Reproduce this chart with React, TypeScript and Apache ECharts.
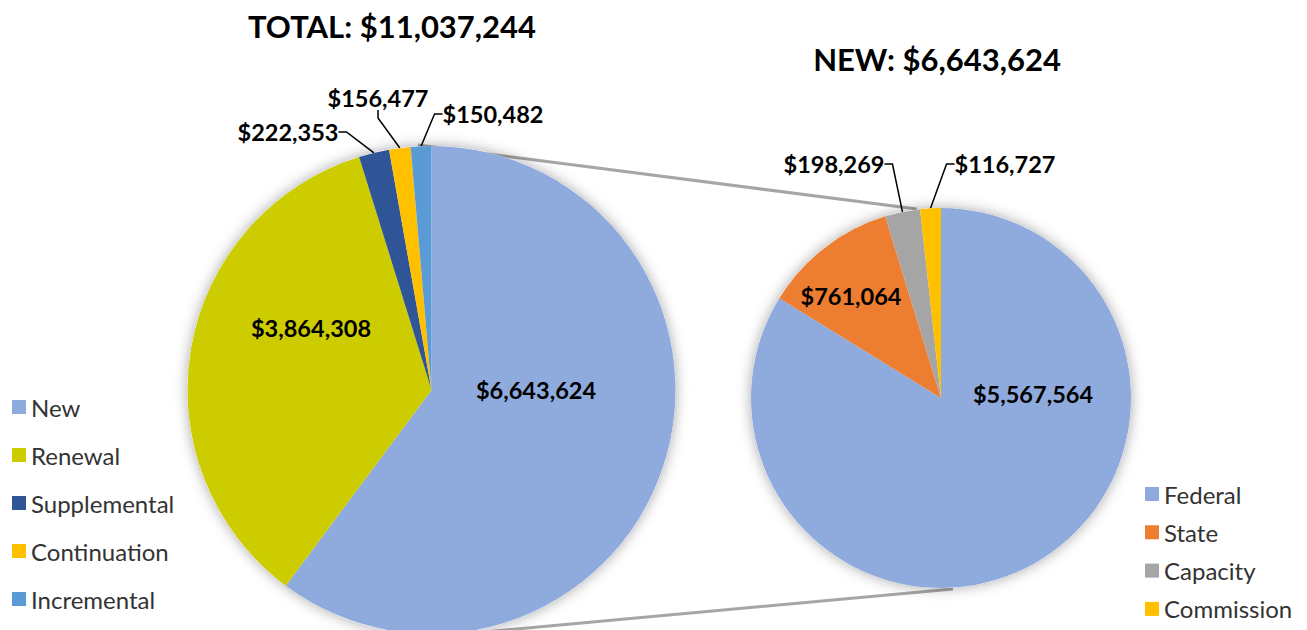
import React, { useEffect, useRef } from 'react';
import * as echarts from 'echarts';

const TOTAL_CATEGORIES = ['New', 'Renewal', 'Supplemental', 'Continuation', 'Incremental'];
const TOTAL_VALUES = [6643624, 3864308, 222353, 156477, 150482];
const NEW_CATEGORIES = ['Federal', 'State', 'Capacity', 'Commission'];
const NEW_VALUES = [5567564, 761064, 198269, 116727];
const TOTAL_TITLE = 'TOTAL: $11,037,244';
const NEW_TITLE = 'NEW: $6,643,624';

const TOTAL_COLORS = ['#8FAADC', '#CCCC00', '#2F5597', '#FFC000', '#5B9BD5'];
const NEW_COLORS = ['#8FAADC', '#ED7D31', '#A5A5A5', '#FFC000'];

// label layout (centre points of the value labels)
const TOTAL_LABEL_POS = [[536, 390], [311, 328], [288, 132], [378, 98], [493, 114]];
const NEW_LABEL_POS = [[1033, 394], [851, 296], [834, 164], [1005, 164]];
const TOTAL_INSIDE = [true, true, false, false, false];
const NEW_INSIDE = [true, true, false, false];

const FONT = 'Lato, "Open Sans", "Noto Sans", sans-serif';
const fmt = (v: number) => '$' + v.toLocaleString('en-US');

const LEFT_CENTER = [431.5, 390];
const LEFT_RADIUS = 244;
const RIGHT_CENTER = [941, 398];
const RIGHT_RADIUS = 190;

function buildData(names: string[], values: number[], colors: string[], inside: boolean[]) {
  return names.map((n, i) => ({
    name: n,
    value: values[i],
    itemStyle: { color: colors[i] },
    label: inside[i] ? { position: 'inside' } : { position: 'outside' },
    labelLine: { show: !inside[i] },
  }));
}

function pieSeries(name: string, center: number[], radius: number, data: any[], pos: number[][]) {
  return {
    name,
    type: 'pie',
    center,
    radius,
    startAngle: 90,
    clockwise: true,
    avoidLabelOverlap: false,
    z: 3,
    data,
    itemStyle: { borderWidth: 0 },
    label: {
      show: true,
      formatter: (p: any) => fmt(p.value),
      fontFamily: FONT,
      fontWeight: 'bold',
      fontSize: 23.5,
      color: '#000',
    },
    labelLine: {
      show: true,
      length: 8,
      length2: 8,
      smooth: false,
      lineStyle: { color: '#000', width: 1.5 },
    },
    labelLayout: (p: any) => {
      const q = pos[p.dataIndex];
      return { x: q[0], y: q[1], align: 'center', verticalAlign: 'middle' };
    },
    emphasis: { disabled: true },
  };
}

function shadowSeries(center: number[], radius: number) {
  return {
    type: 'pie',
    name: '__shadow',
    center,
    radius,
    silent: true,
    z: 1,
    label: { show: false },
    labelLine: { show: false },
    data: [{ value: 1, name: '__shadow' }],
    itemStyle: { color: '#ffffff', shadowBlur: 14, shadowColor: 'rgba(0,0,0,0.35)' },
    emphasis: { disabled: true },
  };
}

export default function App() {
  const ref = useRef<HTMLDivElement>(null);
  useEffect(() => {
    if (!ref.current) return;
    const chart = echarts.init(ref.current, undefined, { renderer: 'svg' });
    const legendText = { fontFamily: FONT, fontSize: 24, color: '#333333', lineHeight: 24 };
    chart.setOption({
      animation: false,
      backgroundColor: '#ffffff',
      legend: [
        {
          data: TOTAL_CATEGORIES,
          orient: 'vertical',
          left: 7,
          top: 390,
          padding: 5,
          itemWidth: 14,
          itemHeight: 14,
          itemGap: 24,
          icon: 'rect',
          selectedMode: false,
          textStyle: legendText,
        },
        {
          data: NEW_CATEGORIES,
          orient: 'vertical',
          left: 1140,
          top: 477,
          padding: 5,
          itemWidth: 14,
          itemHeight: 14,
          itemGap: 14.3,
          icon: 'rect',
          selectedMode: false,
          textStyle: legendText,
        },
      ],
      graphic: [
        {
          type: 'line',
          z: 0,
          shape: { x1: 418, y1: 145, x2: 917, y2: 209 },
          style: { stroke: '#A6A6A6', lineWidth: 3 },
        },
        {
          type: 'line',
          z: 0,
          shape: { x1: 462, y1: 634, x2: 953, y2: 589 },
          style: { stroke: '#A6A6A6', lineWidth: 3 },
        },
        {
          type: 'text',
          x: 392,
          y: 26,
          style: {
            text: TOTAL_TITLE,
            fill: '#000',
            font: `bold 31px ${FONT}`,
            align: 'center',
            verticalAlign: 'middle',
            textAlign: 'center',
            textVerticalAlign: 'middle',
          },
        },
        {
          type: 'text',
          x: 937,
          y: 59,
          style: {
            text: NEW_TITLE,
            fill: '#000',
            font: `bold 31px ${FONT}`,
            align: 'center',
            verticalAlign: 'middle',
            textAlign: 'center',
            textVerticalAlign: 'middle',
          },
        },
      ],
      series: [
        shadowSeries(LEFT_CENTER, LEFT_RADIUS),
        shadowSeries(RIGHT_CENTER, RIGHT_RADIUS),
        pieSeries('TotalPie', LEFT_CENTER, LEFT_RADIUS, buildData(TOTAL_CATEGORIES, TOTAL_VALUES, TOTAL_COLORS, TOTAL_INSIDE), TOTAL_LABEL_POS),
        pieSeries('NewPie', RIGHT_CENTER, RIGHT_RADIUS, buildData(NEW_CATEGORIES, NEW_VALUES, NEW_COLORS, NEW_INSIDE), NEW_LABEL_POS),
      ],
    });
    return () => chart.dispose();
  }, []);
  return (
    <div
      ref={ref}
      style={{ position: 'absolute', left: 0, top: 0, width: 1307, height: 630 }}
    />
  );
}
